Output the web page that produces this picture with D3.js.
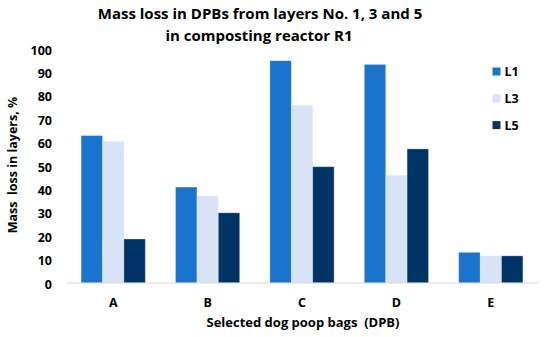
<!DOCTYPE html>
<html><head><meta charset="utf-8">
<script src="https://cdn.jsdelivr.net/npm/d3@7"></script>
<style>body{margin:0;background:#fff}text{font-family:"Open Sans",sans-serif;font-weight:bold;fill:#000;white-space:pre}</style>
</head><body><svg id="c" width="550" height="337"></svg>
<script>
const categories = ["A","B","C","D","E"];
const seriesNames = ["L1","L3","L5"];
const L1 = [63, 41, 95, 93.4, 13.1];
const L3 = [60.5, 37.2, 75.9, 46, 11.6];
const L5 = [18.8, 30, 49.7, 57.3, 11.6];
const yTicks = [0,10,20,30,40,50,60,70,80,90,100];
const colors = ["#1a73cc","#d8e4f5","#013466"];
const series = [L1, L3, L5];

const svg = d3.select("#c");
const x = d3.scaleBand().domain(categories).range([66, 538]).paddingInner(0.32).paddingOuter(0.16);
const xs = d3.scaleBand().domain(seriesNames).range([0, x.bandwidth()]);
const y = d3.scaleLinear().domain([0,100]).range([283, 49]);

// bars
categories.forEach((c,i)=>{
  seriesNames.forEach((s,j)=>{
    svg.append("rect")
      .attr("x", x(c)+xs(s))
      .attr("y", y(series[j][i]))
      .attr("width", xs.bandwidth())
      .attr("height", y(0)-y(series[j][i]))
      .attr("fill", colors[j])
      .attr("stroke", j===1 ? "none" : "#ffffff")
      .attr("stroke-opacity", 0.35)
      .attr("stroke-width", 0.8);
  });
});

// baseline
svg.append("line").attr("x1",66).attr("x2",538).attr("y1",y(0)).attr("y2",y(0))
  .attr("stroke","#d9d9d9").attr("stroke-width",1.2);

// y axis
const yAxis = d3.axisLeft(y).tickValues(yTicks).tickSize(0).tickPadding(0);
const gy = svg.append("g").attr("transform","translate(52,1)").call(yAxis);
gy.select(".domain").remove();
gy.selectAll("text").style("font-size","12.5px").style("font-family","'Open Sans',sans-serif").style("font-weight","bold").attr("fill","#000");

// x axis labels
const xAxis = d3.axisBottom(x).tickSize(0).tickPadding(0);
const gx = svg.append("g").attr("transform","translate(0,298)").call(xAxis);
gx.select(".domain").remove();
gx.selectAll("text").style("font-size","12.5px").style("font-family","'Open Sans',sans-serif").style("font-weight","bold").attr("fill","#000");

// titles
svg.append("text").attr("x",260).attr("y",19).attr("text-anchor","middle").style("font-size","15px").text("Mass loss in DPBs from layers No. 1, 3 and 5");
svg.append("text").attr("x",259).attr("y",41).attr("text-anchor","middle").style("font-size","15px").text("in composting reactor R1");
svg.append("text").attr("x",303).attr("y",327).attr("text-anchor","middle").style("font-size","13px").text("Selected dog poop bags  (DPB)");
svg.append("text").attr("transform","translate(17,165) rotate(-90)").attr("text-anchor","middle").style("font-size","12.5px").text("Mass  loss in layers, %");

// legend
const lg = svg.append("g");
seriesNames.forEach((s,j)=>{
  const yy = 71.5 + j*26.8;
  lg.append("rect").attr("x",492.5).attr("y",yy-4).attr("width",8).attr("height",8).attr("fill",colors[j]);
  lg.append("text").attr("x",504.5).attr("y",yy+4.5).style("font-size","12.5px").text(s);
});
</script></body></html>
